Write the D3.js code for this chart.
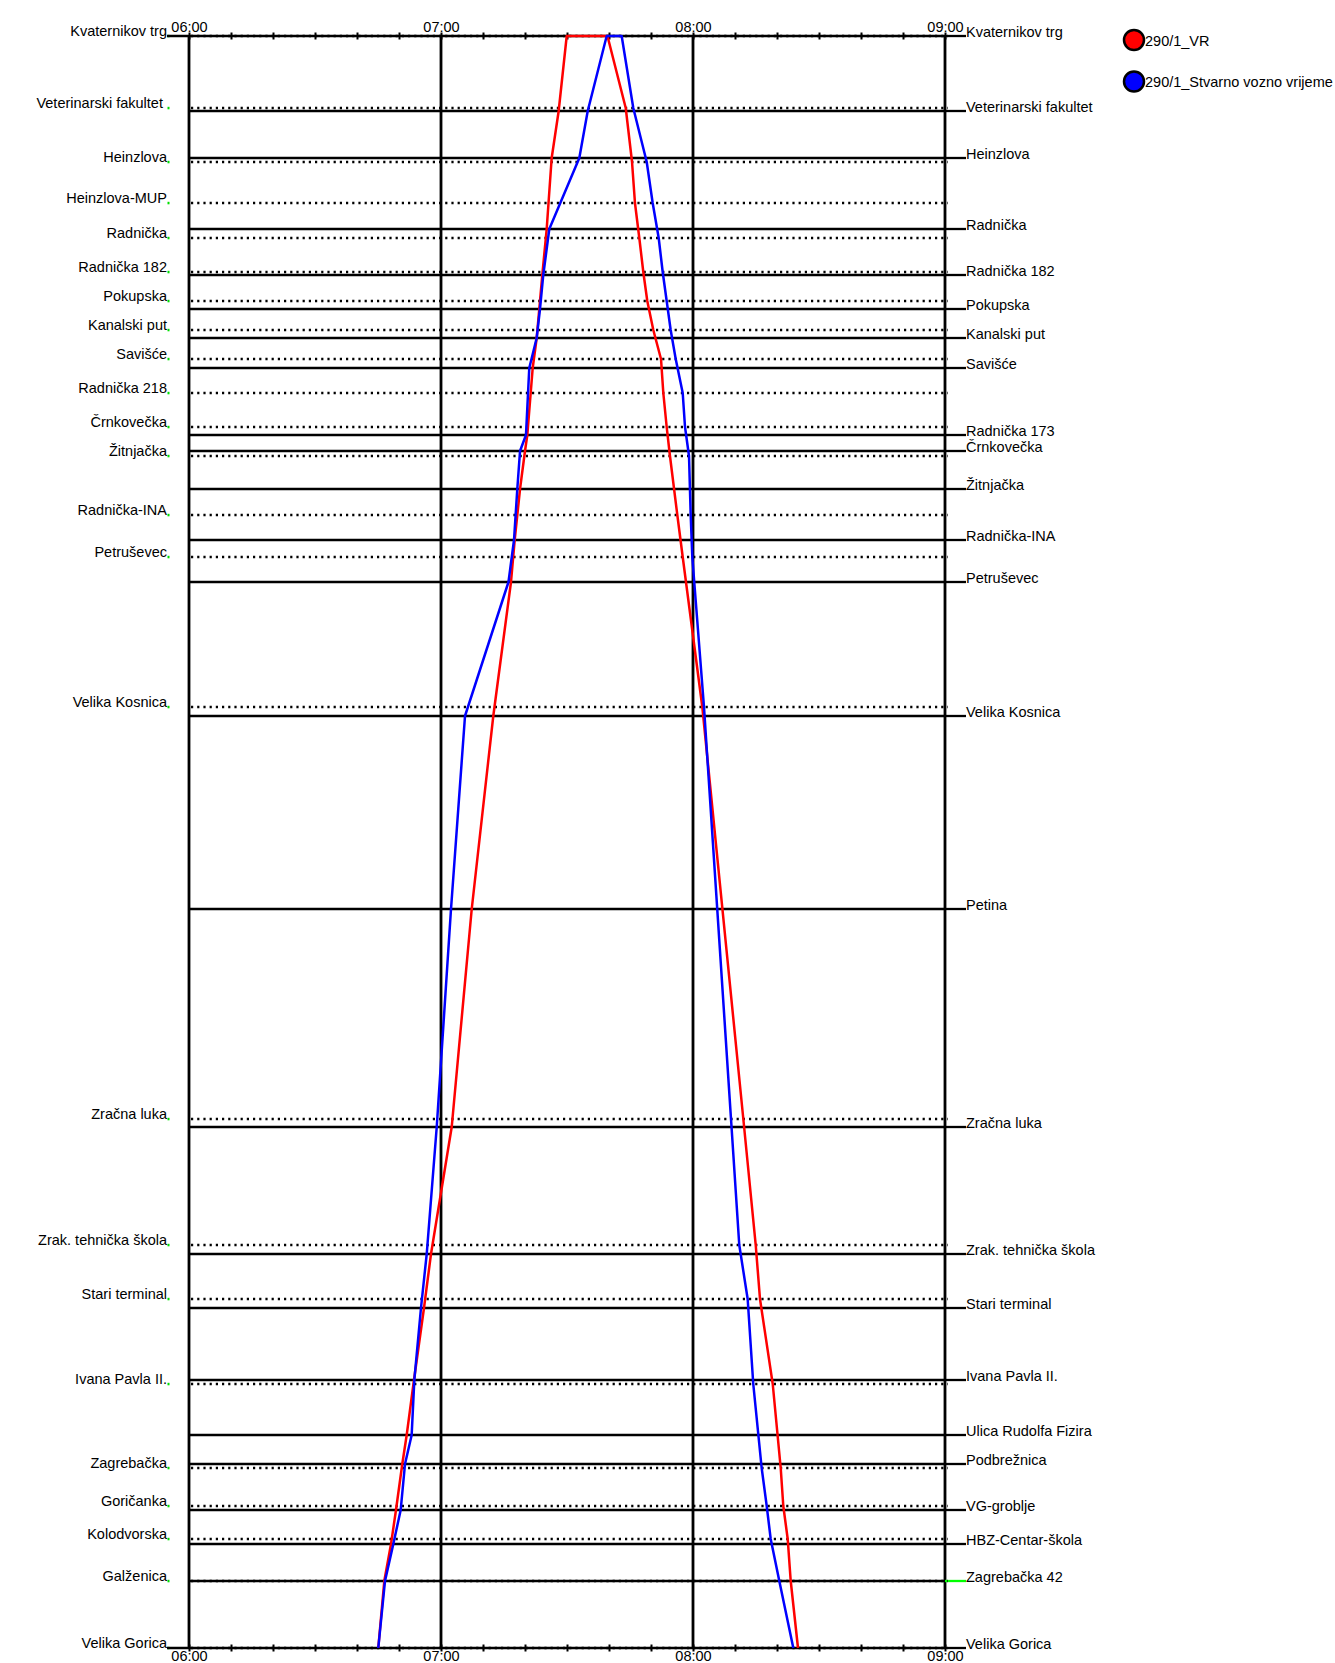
<!DOCTYPE html>
<html>
<head>
<meta charset="utf-8">
<script src="https://cdn.jsdelivr.net/npm/d3@7"></script>
<style>
    body { margin: 0; background: #fff; }
    svg text { font-family: 'Liberation Sans', Arial, sans-serif; font-size: 14.5px; fill: #000; white-space: pre; }
</style>
</head>
<body>
<svg width="1335" height="1663"></svg>
<script>
/*
    Time-distance graph of line 290/1, Kvaternikov trg - Velika Gorica.
    Planned (VR) and real running times.
*/

// Stations of the trip towards Velika Gorica (left axis, dotted lines), km from Kvaternikov trg
let leftStations = ['Kvaternikov trg', 'Veterinarski fakultet ', 'Heinzlova', 'Heinzlova-MUP', 'Radnička', 'Radnička 182',
    'Pokupska', 'Kanalski put', 'Savišće', 'Radnička 218', 'Črnkovečka', 'Žitnjačka', 'Radnička-INA', 'Petruševec',
    'Velika Kosnica', 'Zračna luka', 'Zrak. tehnička škola', 'Stari terminal', 'Ivana Pavla II.', 'Zagrebačka',
    'Goričanka', 'Kolodvorska', 'Galženica', 'Velika Gorica'];
let leftKm = [0, 0.72, 1.26, 1.67, 2.02, 2.36, 2.65, 2.94, 3.23, 3.57, 3.91, 4.20, 4.79, 5.21,
    6.71, 10.83, 12.09, 12.63, 13.48, 14.32, 14.70, 15.03, 15.45, 16.12];

// Stations of the trip towards Kvaternikov trg (right axis, solid lines)
let rightStations = ['Kvaternikov trg', 'Veterinarski fakultet', 'Heinzlova', 'Radnička', 'Radnička 182', 'Pokupska',
    'Kanalski put', 'Savišće', 'Radnička 173', 'Črnkovečka', 'Žitnjačka', 'Radnička-INA', 'Petruševec',
    'Velika Kosnica', 'Petina', 'Zračna luka', 'Zrak. tehnička škola', 'Stari terminal', 'Ivana Pavla II.',
    'Ulica Rudolfa Fizira', 'Podbrežnica', 'VG-groblje', 'HBZ-Centar-škola', 'Zagrebačka 42', 'Velika Gorica'];
let rightKm = [0, 0.75, 1.22, 1.93, 2.39, 2.73, 3.02, 3.32, 3.99, 4.15, 4.53, 5.04, 5.46,
    6.80, 8.73, 10.91, 12.18, 12.72, 13.44, 13.99, 14.28, 14.74, 15.08, 15.45, 16.12];

// Series
let seriesNames = ['290/1_VR', '290/1_Stvarno vozno vrijeme'];
let seriesColors = ['#ff0000', '#0000ff'];

// Times at the right-axis stations (Velika Gorica -> Kvaternikov trg), listed top to bottom
let vrUp = ['07:29:56', '07:28:01', '07:26:21', '07:25:10', '07:24:07', '07:23:24', '07:22:47', '07:21:50',
    '07:20:33', '07:20:00', '07:18:49', '07:17:33', '07:16:40', '07:12:27', '07:07:19', '07:02:33',
    '06:57:37', '06:55:57', '06:53:34', '06:51:50', '06:50:47', '06:49:17', '06:48:06', '06:46:30', '06:45:04'];
let realUp = ['07:39:27', '07:34:56', '07:32:56', '07:25:47', '07:24:21', '07:23:34', '07:22:47', '07:21:01',
    '07:20:14', '07:18:49', '07:18:10', '07:17:23', '07:16:04', '07:05:43', '07:02:23', '06:58:59',
    '06:56:36', '06:55:14', '06:53:39', '06:53:01', '06:51:26', '06:50:24', '06:48:39', '06:46:40', '06:45:04'];

// Times at the left-axis stations (Kvaternikov trg -> Velika Gorica), listed top to bottom
let vrDown = ['07:39:38', '07:43:59', '07:45:29', '07:46:11', '07:47:13', '07:48:10', '07:49:07', '07:50:33',
    '07:52:23', '07:52:56', '07:53:44', '07:54:31', '07:56:16', '07:57:33', '08:02:13', '08:11:59',
    '08:14:56', '08:15:57', '08:18:59', '08:20:53', '08:21:30', '08:22:33', '08:23:16', '08:25:00'];
let realDown = ['07:43:01', '07:45:47', '07:48:59', '07:50:24', '07:51:50', '07:52:47', '07:53:44', '07:54:41',
    '07:55:53', '07:57:33', '07:58:06', '07:59:03', '07:59:27', '07:59:50', '08:02:37', '08:09:03',
    '08:11:01', '08:13:01', '08:14:21', '08:16:21', '08:17:33', '08:18:30', '08:20:33', '08:23:53'];

let timeRange = ['06:00:00', '09:00:00'];

// Select the svg element
let svg = d3.select('svg');

// Define constants
let margin = {top: 36, right: 390, bottom: 15, left: 189};
let width = +svg.attr('width');
let height = +svg.attr('height');
let parseTime = d3.timeParse('%H:%M:%S');

// Scales
let x = d3.scaleTime()
            .domain(timeRange.map(parseTime))
            .range([margin.left, width - margin.right]);

let y = d3.scaleLinear()
            .domain([0, d3.max(rightKm)])
            .range([margin.top, height - margin.bottom]);

let x0 = x.range()[0];
let x1 = x.range()[1];

// Green markers next to the left labels
svg.append('g')
    .selectAll('rect')
    .data(leftKm)
    .join('rect')
    .attr('x', x0 - 21.5)
    .attr('y', d => y(d) - 1.2)
    .attr('width', 2)
    .attr('height', 2.5)
    .attr('fill', '#00e000');

// Hour grid lines
svg.append('g')
    .selectAll('line')
    .data(x.ticks(d3.timeHour.every(1)))
    .join('line')
    .attr('x1', d => x(d))
    .attr('x2', d => x(d))
    .attr('y1', y.range()[0])
    .attr('y2', y.range()[1])
    .attr('stroke', '#000')
    .attr('stroke-width', 2.8);

// Solid lines for the right-axis stations
svg.append('g')
    .selectAll('line')
    .data(rightKm)
    .join('line')
    .attr('x1', (d, i) => (i === 0 || i === rightKm.length - 1) ? x0 - 22 : x0)
    .attr('x2', x1)
    .attr('y1', d => y(d))
    .attr('y2', d => y(d))
    .attr('stroke', '#000')
    .attr('stroke-width', 2.3);

// Right ticks
svg.append('g')
    .selectAll('line')
    .data(rightStations)
    .join('line')
    .attr('x1', x1)
    .attr('x2', x1 + 21)
    .attr('y1', (d, i) => y(rightKm[i]))
    .attr('y2', (d, i) => y(rightKm[i]))
    .attr('stroke', d => d === 'Zagrebačka 42' ? '#00ff00' : '#000')
    .attr('stroke-width', 2.3);

// Dotted lines for the left-axis stations
svg.append('g')
    .selectAll('line')
    .data(leftKm)
    .join('line')
    .attr('x1', x0 + 2)
    .attr('x2', x1 + 3)
    .attr('y1', d => y(d))
    .attr('y2', d => y(d))
    .attr('stroke', '#000')
    .attr('stroke-width', 2.5)
    .attr('stroke-dasharray', '2.2,4');

// Top and bottom time axes
let topAxis = svg.append('g')
    .attr('transform', 'translate(0,' + y.range()[0] + ')')
    .call(d3.axisTop(x)
            .ticks(d3.timeMinute.every(10))
            .tickSize(0)
            .tickFormat(d => d.getMinutes() === 0 ? d3.timeFormat('%H:%M')(d) : ''));

let bottomAxis = svg.append('g')
    .attr('transform', 'translate(0,' + y.range()[1] + ')')
    .call(d3.axisBottom(x)
            .ticks(d3.timeMinute.every(10))
            .tickSize(0)
            .tickFormat(d => d.getMinutes() === 0 ? d3.timeFormat('%H:%M')(d) : ''));

[topAxis, bottomAxis].forEach(function(g) {
    g.select('.domain').remove();
    g.selectAll('.tick line')
        .attr('y1', -3.5)
        .attr('y2', 3.5)
        .attr('stroke', '#000')
        .attr('stroke-width', 2);
    g.selectAll('.tick text')
        .attr('font-size', null)
        .attr('font-family', null);
});
topAxis.selectAll('.tick text').attr('y', -4);
bottomAxis.selectAll('.tick text').attr('y', 2.5);

// Station labels
svg.append('g')
    .selectAll('text')
    .data(leftStations)
    .join('text')
    .attr('x', x0 - 22)
    .attr('y', (d, i) => y(leftKm[i]))
    .attr('text-anchor', 'end')
    .text(d => d);

svg.append('g')
    .selectAll('text')
    .data(rightStations)
    .join('text')
    .attr('x', x1 + 21)
    .attr('y', (d, i) => y(rightKm[i]) + 0.5)
    .text(d => d);

// Trips: up to Kvaternikov trg, then back down to Velika Gorica
let line = d3.line()
                .x(d => x(d.t))
                .y(d => y(d.km));

let trips = [
    {name: seriesNames[0], up: vrUp, down: vrDown},
    {name: seriesNames[1], up: realUp, down: realDown}
];

trips.forEach(function(trip, k) {
    let up = rightKm.map((km, i) => ({km: km, t: parseTime(trip.up[i])})).reverse();
    let down = leftKm.map((km, i) => ({km: km, t: parseTime(trip.down[i])}));

    svg.append('path')
        .datum(up.concat(down))
        .attr('d', line)
        .attr('fill', 'none')
        .attr('stroke', seriesColors[k])
        .attr('stroke-width', 2.5)
        .attr('stroke-linejoin', 'round');
});

// Legend
let legend = svg.append('g')
    .selectAll('g')
    .data(seriesNames)
    .join('g')
    .attr('transform', (d, i) => 'translate(1134,' + (40 + i * 41.5) + ')');

legend.append('circle')
    .attr('r', 10)
    .attr('fill', (d, i) => seriesColors[i])
    .attr('stroke', '#000')
    .attr('stroke-width', 2.5);

legend.append('text')
    .attr('x', 11)
    .attr('y', 5.5)
    .text(d => d);
</script>
</body>
</html>
